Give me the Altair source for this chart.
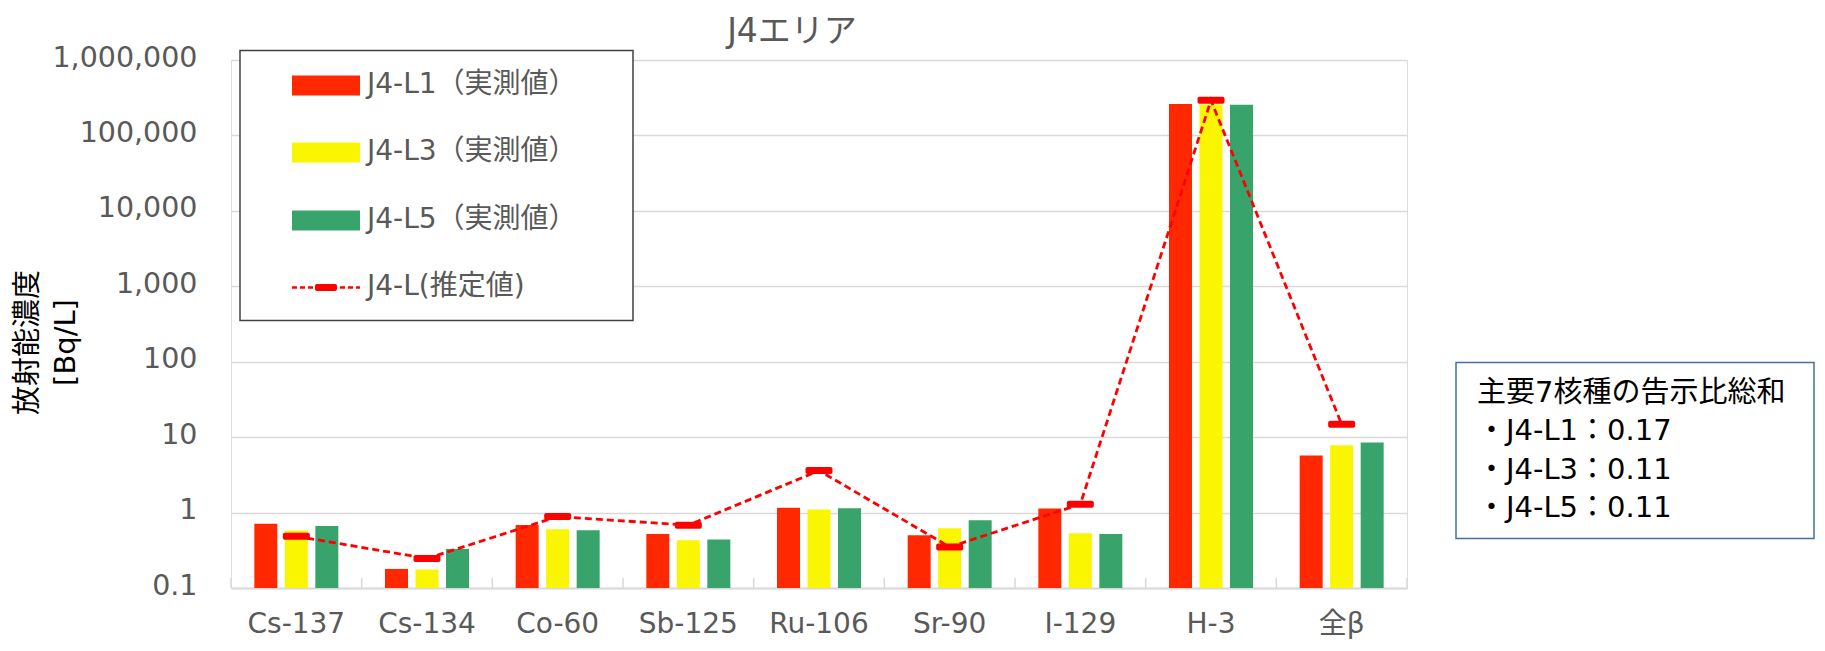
import altair as alt
import pandas as pd

# ---- data ----
nuclides = ["Cs-137", "Cs-134", "Co-60", "Sb-125", "Ru-106", "Sr-90", "I-129", "H-3", "全β"]
series_names = ["J4-L1（実測値）", "J4-L3（実測値）", "J4-L5（実測値）"]
l1_values = [0.71, 0.179, 0.685, 0.52, 1.16, 0.50, 1.13, 261000, 5.7]
l3_values = [0.58, 0.176, 0.60, 0.43, 1.10, 0.62, 0.53, 258000, 7.8]
l5_values = [0.665, 0.33, 0.583, 0.44, 1.14, 0.79, 0.52, 256000, 8.5]
estimate_name = "J4-L(推定値)"
estimate_values = [0.485, 0.246, 0.885, 0.68, 3.6, 0.35, 1.29, 292000, 14.8]
y_tick_values = [0.1, 1, 10, 100, 1000, 10000, 100000, 1000000]
chart_title = "J4エリア"
y_title = ["放射能濃度", "[Bq/L]"]
note_lines = ["主要7核種の告示比総和", "・J4-L1：0.17", "・J4-L3：0.11", "・J4-L5：0.11"]

# ---- style ----
bar_colors = ["#FF2800", "#FAF500", "#38A36B"]
line_color = "#FF0000"
GRAY = "#595959"
GRID = "#D9D9D9"
FONT = "DejaVu Sans, Noto Sans CJK JP"
W, H = 1176, 528
PAD = {"left": 223, "top": 52, "right": 408, "bottom": 55}

bars_df = pd.DataFrame({
    "nuclide": nuclides * 3,
    "series": [s for s in series_names for _ in nuclides],
    "value": l1_values + l3_values + l5_values,
})
est_df = pd.DataFrame({"nuclide": nuclides, "value": estimate_values})
cat_df = pd.DataFrame({"nuclide": nuclides})
end_df = pd.DataFrame({"nuclide": nuclides[-1:]})

x_axis = alt.Axis(
    domain=True, domainColor=GRID, domainWidth=2, ticks=False, grid=False,
    labelAngle=0, labelFont=FONT, labelFontSize=28, labelColor=GRAY,
    labelPadding=22, title=None,
)
y_scale = alt.Scale(type="log", domain=[0.1, 1000000])
y_axis = alt.Axis(
    values=y_tick_values, format=",", grid=True, gridColor=GRID, gridWidth=1.5,
    domain=False, ticks=False, labelFont=FONT, labelFontSize=28.5, labelColor=GRAY,
    labelPadding=34, labelBaseline="alphabetic", labelOffset=6,
    title=y_title, titleFont=FONT, titleFontSize=29, titleColor="black",
    titleFontWeight="normal", titleAngle=270, titleX=-204, titleY=282,
    titleAlign="center", titleBaseline="middle", titleLineHeight=38,
)

def xenc(**kw):
    return alt.X("nuclide:N", sort=nuclides,
                 scale=alt.Scale(paddingInner=0, paddingOuter=0), axis=x_axis, **kw)

bars = alt.Chart(bars_df).mark_bar().encode(
    x=xenc(),
    xOffset=alt.XOffset("series:N", sort=series_names,
                        scale=alt.Scale(paddingInner=0.246, paddingOuter=0.765)),
    y=alt.Y("value:Q", scale=y_scale, axis=y_axis),
    y2=alt.datum(0.1),
    color=alt.Color("series:N", scale=alt.Scale(domain=series_names, range=bar_colors), legend=None),
)

cat_ticks = alt.Chart(cat_df).mark_rule(color=GRID, strokeWidth=1.5).encode(
    x=xenc(bandPosition=0), y=alt.datum(0.1), y2=alt.datum(0.136))
end_tick = alt.Chart(end_df).mark_rule(color=GRID, strokeWidth=1.5).encode(
    x=xenc(bandPosition=1), y=alt.datum(0.1), y2=alt.datum(0.136))

line = alt.Chart(est_df).mark_line(color=line_color, strokeDash=[7, 4], strokeWidth=2.8).encode(
    x=xenc(), y=alt.Y("value:Q", scale=y_scale, axis=y_axis))
markers = alt.Chart(est_df).mark_tick(color=line_color, thickness=7, size=27, opacity=1,
                                      cornerRadius=2, orient="horizontal").encode(
    x=xenc(), y=alt.Y("value:Q", scale=y_scale, axis=y_axis))

one = pd.DataFrame({"k": [0]})

# ---- title ----
title_mark = alt.Chart(pd.DataFrame({"t": [chart_title]})).mark_text(
    align="center", baseline="alphabetic", font=FONT, fontSize=33, color=GRAY).encode(
    x=alt.value(561), y=alt.value(-18.5), text="t:N")

# ---- legend (decoration) ----
legend_layers = [
    alt.Chart(one).mark_rect(fill="white", stroke="#404040", strokeWidth=1.5).encode(
        x=alt.value(9), x2=alt.value(402), y=alt.value(-9.5), y2=alt.value(260.5))
]
row_centers = [25.5, 92.5, 160.5, 227.5]
for name, color, rc in zip(series_names, bar_colors, row_centers):
    legend_layers.append(alt.Chart(one).mark_rect(fill=color).encode(
        x=alt.value(61), x2=alt.value(129), y=alt.value(rc - 10), y2=alt.value(rc + 10)))
    legend_layers.append(alt.Chart(pd.DataFrame({"label": [name]})).mark_text(
        align="left", baseline="alphabetic", font=FONT, fontSize=28, color=GRAY).encode(
        x=alt.value(136), y=alt.value(rc + 7), text="label:N"))
rc = row_centers[3]
legend_layers.append(alt.Chart(one).mark_rule(color=line_color, strokeDash=[5, 3], strokeWidth=2.5).encode(
    x=alt.value(61), x2=alt.value(129), y=alt.value(rc)))
legend_layers.append(alt.Chart(one).mark_rect(fill=line_color, cornerRadius=2).encode(
    x=alt.value(84), x2=alt.value(106), y=alt.value(rc - 3.5), y2=alt.value(rc + 3.5)))
legend_layers.append(alt.Chart(pd.DataFrame({"label": [estimate_name]})).mark_text(
    align="left", baseline="alphabetic", font=FONT, fontSize=28, color=GRAY).encode(
    x=alt.value(136), y=alt.value(rc + 7), text="label:N"))

# ---- note box ----
note_layers = [alt.Chart(one).mark_rect(fill="white", stroke="#41719C", strokeWidth=1.5).encode(
    x=alt.value(1225), x2=alt.value(1583), y=alt.value(302.5), y2=alt.value(478.5))]
for i, txt in enumerate(note_lines):
    note_layers.append(alt.Chart(pd.DataFrame({"t": [txt]})).mark_text(
        align="left", baseline="middle", font=FONT, fontSize=29, color="black").encode(
        x=alt.value(1246), y=alt.value(332.5 + 38.5 * i), text="t:N"))

chart = alt.layer(
    bars, cat_ticks, end_tick, line, markers, title_mark, *legend_layers, *note_layers
).properties(
    width=W, height=H,
    autosize=alt.AutoSizeParams(type="none"),
    padding=PAD,
).configure_view(stroke=None).configure(background="white")

chart.save("out.html", embed_options={"renderer": "svg", "actions": False})
